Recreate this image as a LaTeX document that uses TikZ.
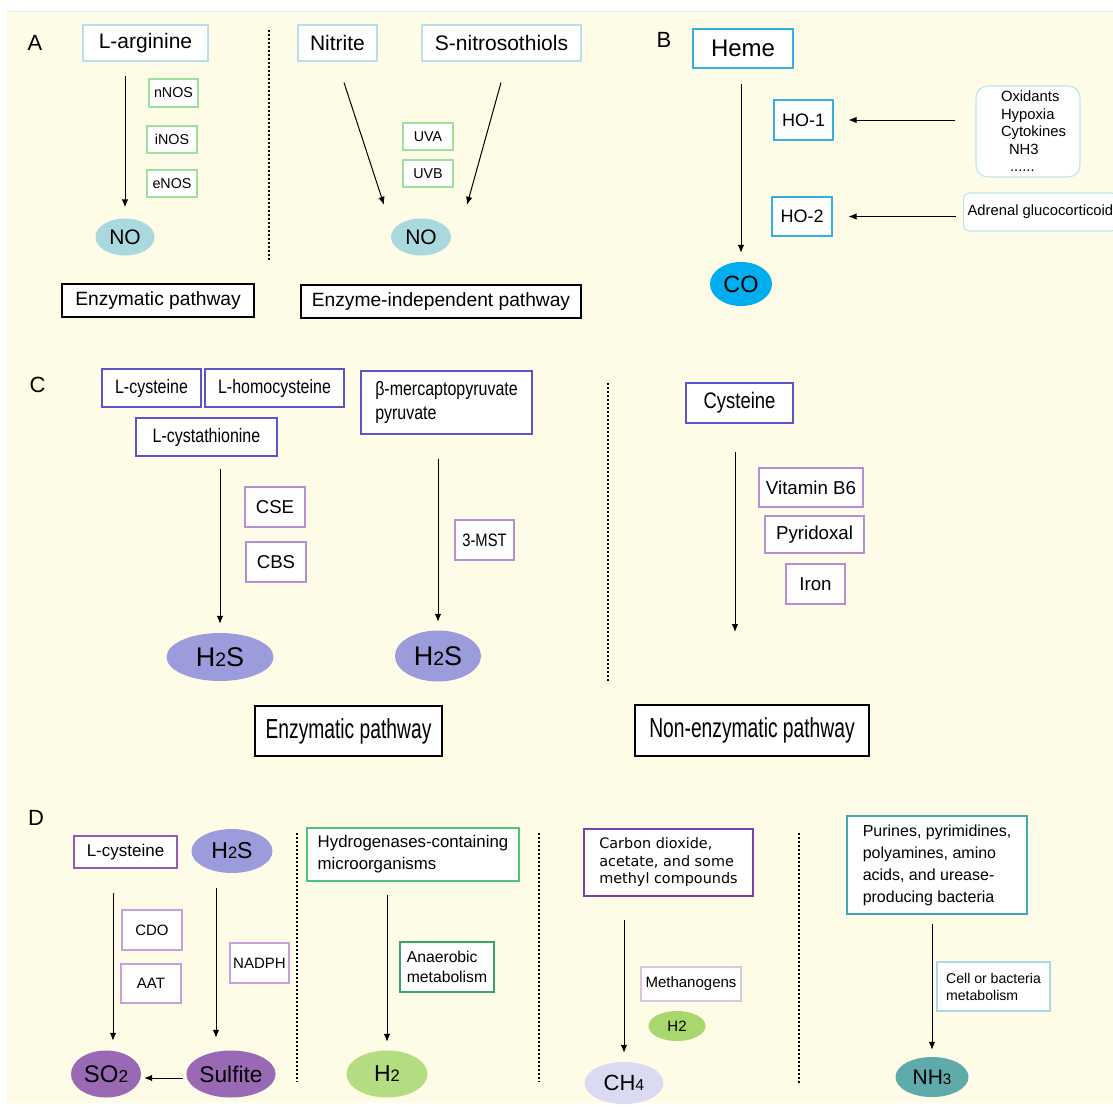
\documentclass[tikz,border=0pt]{standalone}
\usepackage{fontspec}
\usepackage{graphicx}
\setmainfont{Liberation Sans}
\newfontfamily\narrowfont[FakeStretch=0.82]{Liberation Sans}
\newfontfamily\condfont[FakeStretch=0.7]{Liberation Sans}
\newfontfamily\widefont{DejaVu Sans}
\usetikzlibrary{shapes.geometric,calc,arrows.meta}

\definecolor{bgyel}{HTML}{FEFBE6}
\definecolor{ltblue}{HTML}{B8E0EC}
\definecolor{nosgreen}{HTML}{9EE09E}
\definecolor{nocol}{HTML}{A9D8DE}
\definecolor{heblue}{HTML}{35AEE3}
\definecolor{cocol}{HTML}{00AEEF}
\definecolor{oxblue}{HTML}{BDE6F2}
\definecolor{indigo}{HTML}{5A55C8}
\definecolor{enzpur}{HTML}{B48ED6}
\definecolor{hscol}{HTML}{9C9CDC}
\definecolor{dpur}{HTML}{9B59B6}
\definecolor{cdopur}{HTML}{C7A2D9}
\definecolor{socol}{HTML}{9A69B5}
\definecolor{hgreen}{HTML}{4CC47C}
\definecolor{angreen}{HTML}{3DA36B}
\definecolor{htwocol}{HTML}{B4DC80}
\definecolor{carbpur}{HTML}{7E3FA8}
\definecolor{methpink}{HTML}{DCC4DC}
\definecolor{htwosm}{HTML}{A8D76E}
\definecolor{chcol}{HTML}{DADAF0}
\definecolor{purteal}{HTML}{42A7B8}
\definecolor{cellblue}{HTML}{A9D9E9}
\definecolor{nhcol}{HTML}{5FAAAA}
\definecolor{topline}{HTML}{E4EEF4}

\newcommand{\fs}[2]{\fontsize{#1}{#2}\selectfont}
\newcommand{\lowidx}[1]{\scalebox{0.72}{#1}}

\begin{document}
\begin{tikzpicture}[x=1pt,y=-1pt,
    box/.style={draw,fill=white,line width=1.2pt,inner sep=0pt},
    oval/.style={ellipse,inner sep=0pt},
    arr/.style={draw,-{Latex[length=8pt,width=6.5pt]},line width=1pt},
    sep/.style={line width=2pt,dash pattern=on 2pt off 2pt}]
    \useasboundingbox (0,0) rectangle (1113,1106);
    \fill[white] (0,0) rectangle (1113,1106);
    \fill[bgyel] (7,11) rectangle (1113,1103);
    \draw[topline,line width=1pt] (7,11) -- (1113,11);

    % A
    \node[font=\fs{22}{26}] at (35,43) (labA) {A};
    \node[box,draw=ltblue,minimum width=125,minimum height=36,font=\fs{21}{25}] at (145.5,43) (arg) {L-arginine};
    \node[box,draw=nosgreen,minimum width=49,minimum height=28,font=\fs{14.3}{17}] at (173.5,93) (nNOS) {nNOS};
    \node[box,draw=nosgreen,minimum width=50,minimum height=27,font=\fs{14.3}{17}] at (172,139.5) (iNOS) {iNOS};
    \node[box,draw=nosgreen,minimum width=50,minimum height=27,font=\fs{14.3}{17}] at (172,183.5) (eNOS) {eNOS};
    \node[oval,fill=nocol,minimum width=59,minimum height=37,font=\fs{21}{25}] at (125,237) (NOl) {NO};
    \node[box,draw=ltblue,minimum width=79,minimum height=36,font=\fs{21}{25}] at (337.5,43) (nitrite) {Nitrite};
    \node[box,draw=ltblue,minimum width=159,minimum height=36,font=\fs{21}{25}] at (501.5,43) (snitro) {S-nitrosothiols};
    \node[box,draw=nosgreen,minimum width=50,minimum height=27,font=\fs{14.3}{17}] at (428,136.5) (UVA) {UVA};
    \node[box,draw=nosgreen,minimum width=50,minimum height=27,font=\fs{14.3}{17}] at (428,173.5) (UVB) {UVB};
    \node[oval,fill=nocol,minimum width=60,minimum height=37,font=\fs{21}{25}] at (421,237) (NOr) {NO};
    \node[box,draw=black,minimum width=192,minimum height=33,font=\fs{19.2}{23}] at (158,300.5) (enzA) {Enzymatic pathway};
    \node[box,draw=black,minimum width=280,minimum height=33,font=\fs{19.2}{23}] at (441,301.5) (indA) {Enzyme-independent pathway};
    \draw[sep] (269,30) -- (269,260);
    \draw[arr,shorten <=14pt,shorten >=11pt] (arg.south -| NOl) -- (NOl.north);
    \draw[arr] ($(nitrite.south)+(6.5,21)$) -- ($(NOr.north)+(-37,-13.5)$);
    \draw[arr] ($(snitro.south)+(-0.5,21)$) -- ($(NOr.north)+(46,-13.5)$);

    % B
    \node[font=\fs{22}{26}] at (664,40) (labB) {B};
    \node[box,draw=heblue,minimum width=100,minimum height=39,font=\fs{24}{28}] at (743,48.5) (heme) {Heme};
    \node[oval,fill=cocol,minimum width=62,minimum height=44,font=\fs{23.5}{28}] at (741,284) (CO) {CO};
    \node[box,draw=heblue,minimum width=59,minimum height=40,font=\fs{18}{22}] at (803.5,120) (HO1) {HO-1};
    \node[box,draw=heblue,minimum width=60,minimum height=39,font=\fs{18}{22}] at (802,216.5) (HO2) {HO-2};
    \node[box,draw=oxblue,rounded corners=12pt,minimum width=104,minimum height=91,align=left,font=\fs{14.8}{17.5}] at (1028,131.5) (oxid)
        {\hspace*{11pt}Oxidants\\\hspace*{11pt}Hypoxia\\\hspace*{11pt}Cytokines\\\hspace*{19pt}NH3\\\hspace*{20pt}......};
    \node[box,draw=oxblue,rounded corners=6pt,anchor=west,inner xsep=4pt,minimum height=38,font=\fs{14.8}{17.5}] at (963,212) (adr) {Adrenal glucocorticoid};
    \draw[arr,shorten <=15pt,shorten >=9pt] (heme.south -| CO) -- (CO.north);
    \draw[arr,shorten <=20pt,shorten >=15pt] (oxid.west |- HO1) -- (HO1.east);
    \draw[arr,shorten <=7pt,shorten >=16pt] (adr.west |- HO2) -- (HO2.east);

    % C
    \node[font=\fs{22}{26}] at (37.5,385) (labC) {C};
    \node[box,draw=indigo,minimum width=99,minimum height=38,font=\narrowfont\fs{19.5}{23}] at (151.5,388) (cys) {L-cysteine};
    \node[box,draw=indigo,minimum width=139,minimum height=38,font=\narrowfont\fs{19.5}{23}] at (274.5,388) (hcys) {L-homocysteine};
    \node[box,draw=indigo,minimum width=141,minimum height=38,font=\narrowfont\fs{19.5}{23}] at (206.5,437) (cysta) {L-cystathionine};
    \node[box,draw=indigo,minimum width=171,minimum height=63,align=left,font=\narrowfont\fs{19.5}{24}] at (446.5,402.5) (bmp) {β-mercaptopyruvate\\pyruvate};
    \node[box,draw=enzpur,minimum width=60,minimum height=40,font=\fs{18.6}{22}] at (275,507) (CSE) {CSE};
    \node[box,draw=enzpur,minimum width=60,minimum height=40,font=\fs{18.6}{22}] at (276,562) (CBS) {CBS};
    \node[oval,fill=hscol,minimum width=107,minimum height=48,font=\fs{27}{31}] at (220,657) (H2Sa) {H\lowidx{2}S};
    \node[box,draw=enzpur,minimum width=59,minimum height=40,font=\narrowfont\fs{18}{22}] at (484.5,540) (MST) {3-MST};
    \node[oval,fill=hscol,minimum width=86,minimum height=51,font=\fs{27}{31}] at (438,656) (H2Sb) {H\lowidx{2}S};
    \node[box,draw=black,minimum width=187,minimum height=50,font=\condfont\fs{27.5}{32}] at (348.5,731) (enzC) {Enzymatic pathway};
    \draw[sep] (608,383) -- (608,681);
    \node[box,draw=indigo,minimum width=107,minimum height=40,font=\narrowfont\fs{22.5}{26}] at (739.5,403) (cyst) {Cysteine};
    \node[box,draw=enzpur,minimum width=104,minimum height=39,font=\fs{18.7}{22}] at (811,487.5) (VB6) {Vitamin B6};
    \node[box,draw=enzpur,minimum width=99,minimum height=37,font=\fs{18.7}{22}] at (814.5,534.5) (pyr) {Pyridoxal};
    \node[box,draw=enzpur,minimum width=59,minimum height=40,font=\fs{18.7}{22}] at (815.5,584) (iron) {Iron};
    \node[box,draw=black,minimum width=234,minimum height=51,font=\condfont\fs{27.5}{32}] at (752,730.5) (nonenz) {Non-enzymatic pathway};
    \coordinate (cend) at (735,632);
    \draw[arr,shorten <=12pt,shorten >=9pt] (cysta.south -| H2Sa) -- (H2Sa.north);
    \draw[arr,shorten <=24pt,shorten >=8.5pt] (bmp.south -| H2Sb) -- (H2Sb.north);
    \draw[arr,shorten <=28pt] (cyst.south -| cend) -- (cend);

    % D
    \node[font=\fs{22}{26}] at (36,818) (labD) {D};
    \node[box,draw=dpur,minimum width=103,minimum height=32,font=\fs{17}{20}] at (125.5,852) (lcys) {L-cysteine};
    \node[oval,fill=hscol,minimum width=81,minimum height=44,font=\fs{23}{27}] at (232,851) (H2Sd) {H\lowidx{2}S};
    \node[box,draw=cdopur,minimum width=60,minimum height=40,font=\fs{15}{18}] at (152,930) (CDO) {CDO};
    \node[box,draw=cdopur,minimum width=60,minimum height=39,font=\fs{15}{18}] at (151,983.5) (AAT) {AAT};
    \node[box,draw=cdopur,minimum width=59,minimum height=40,font=\fs{15}{18}] at (259.5,963) (NADPH) {NADPH};
    \node[oval,fill=socol,minimum width=70,minimum height=47,font=\fs{24}{28}] at (106,1074) (SO2) {SO\lowidx{2}};
    \node[oval,fill=socol,minimum width=80,minimum height=47,font=\fs{22.7}{27}] at (231,1074) (sulf) {Sulfite};
    \draw[arr] ($(lcys.south)+(-12.5,24)$) -- ($(SO2.north)+(7,-9.5)$);
    \draw[arr] ($(H2Sd.south)+(-16,15)$) -- ($(sulf.north)+(-15,-12.5)$);
    \draw[arr] ($(sulf.west)+(-3,4)$) -- ($(SO2.east)+(3,4)$);
    \draw[sep] (297,833) -- (297,1082);
    \node[box,draw=hgreen,minimum width=212,minimum height=53,align=left,font=\fs{16.8}{22}] at (413,854.5) (hydro) {Hydrogenases-containing\\microorganisms};
    \node[box,draw=angreen,minimum width=94,minimum height=50,align=left,font=\fs{15.7}{20}] at (447,967) (anaer) {Anaerobic\\metabolism};
    \node[oval,fill=htwocol,minimum width=81,minimum height=47,font=\fs{23}{27}] at (387,1074) (H2) {H\lowidx{2}};
    \draw[arr,shorten <=13pt,shorten >=8.5pt] (hydro.south -| H2) -- (H2.north);
    \draw[sep] (539,833) -- (539,1082);
    \node[box,draw=carbpur,minimum width=169,minimum height=67,align=left,font=\widefont\fs{14.4}{17.5}] at (668.5,862.5) (carb) {Carbon dioxide,\\acetate, and some\\methyl compounds};
    \node[box,draw=methpink,minimum width=100,minimum height=34,font=\fs{15}{18}] at (691,984) (meth) {Methanogens};
    \node[oval,fill=htwosm,minimum width=57,minimum height=30,font=\fs{15}{18}] at (677,1026) (H2sm) {H2};
    \node[oval,fill=chcol,minimum width=79,minimum height=42,font=\fs{22}{26}] at (624,1083) (CH4) {CH\lowidx{4}};
    \draw[arr,shorten <=23pt,shorten >=9pt] (carb.south -| CH4) -- (CH4.north);
    \draw[sep] (799,833) -- (799,1083);
    \node[box,draw=purteal,minimum width=180,minimum height=98,align=left,font=\fs{16}{22}] at (937,865) (pur) {Purines, pyrimidines,\\polyamines, amino\\acids, and urease-\\producing bacteria};
    \node[box,draw=cellblue,minimum width=113,minimum height=49,align=left,font=\fs{14.1}{17}] at (993.5,986.5) (cell) {Cell or bacteria\\metabolism};
    \node[oval,fill=nhcol,minimum width=73,minimum height=40,font=\fs{21}{25}] at (932,1077) (NH3) {NH\lowidx{3}};
    \draw[arr,shorten <=9pt,shorten >=7pt] (pur.south -| NH3) -- (NH3.north);
\end{tikzpicture}
\end{document}
